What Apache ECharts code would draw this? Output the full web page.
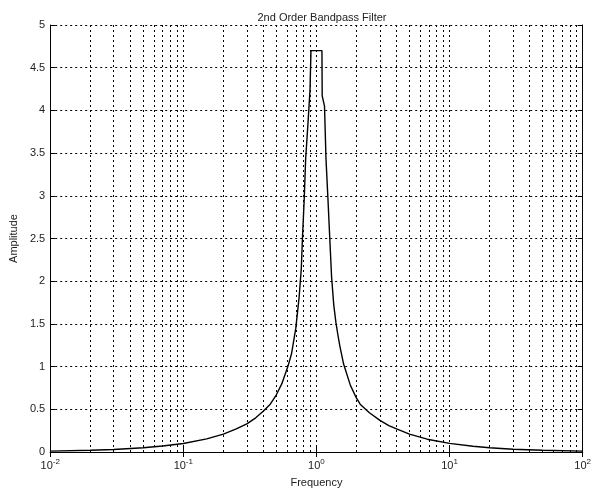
<!DOCTYPE html>
<html>
<head>
<meta charset="utf-8">
<script src="https://cdn.jsdelivr.net/npm/echarts@6/dist/echarts.min.js"></script>
<style>
html,body{margin:0;padding:0;background:#fff;}
#chart{width:594px;height:493px;}
</style>
</head>
<body>
<div id="chart"></div>
<script>
// Data
var frequency = [0.01, 0.02, 0.03, 0.05, 0.07, 0.1, 0.15, 0.2, 0.25, 0.3, 0.35, 0.4, 0.45, 0.5, 0.55, 0.61, 0.65, 0.7, 0.74, 0.77, 0.785, 0.81, 0.83, 0.865, 0.895, 0.91,
                 1.10, 1.105, 1.15, 1.18, 1.22, 1.26, 1.3, 1.35, 1.4, 1.45, 1.5, 1.6, 1.8, 2.0, 2.13, 2.5, 3, 3.5, 4, 5, 6.8, 10, 15, 20, 30, 50, 100];
var amplitude = [0.01, 0.02, 0.03, 0.05, 0.07, 0.1, 0.153, 0.21, 0.27, 0.33, 0.4, 0.48, 0.56, 0.67, 0.8, 1.0, 1.15, 1.45, 1.8, 2.15, 2.5, 2.97, 3.43, 3.86, 4.24, 4.7,
                 4.7, 4.17, 4.05, 3.43, 2.97, 2.5, 2.05, 1.72, 1.52, 1.37, 1.24, 1.03, 0.78, 0.63, 0.56, 0.46, 0.37, 0.31, 0.27, 0.21, 0.15, 0.101, 0.067, 0.05, 0.033, 0.02, 0.01];
var yTicks = ['0', '0.5', '1', '1.5', '2', '2.5', '3', '3.5', '4', '4.5', '5'];
var decades = [-2, -1, 0, 1, 2];
var titleText = '2nd Order Bandpass Filter';
var xName = 'Frequency';
var yName = 'Amplitude';

var points = frequency.map(function (f, i) { return [f, amplitude[i]]; });
var minorLines = [];
for (var d = 0; d < decades.length - 1; d++) {
  for (var m = 2; m <= 9; m++) {
    minorLines.push({ xAxis: m * Math.pow(10, decades[d]) });
  }
}

var gridStyle = { color: '#000', width: 1, type: [2, 3] };
var font = 'Liberation Sans, Arial, sans-serif';

var chart = echarts.init(document.getElementById('chart'), null, { renderer: 'canvas' });
chart.setOption({
  animation: false,
  backgroundColor: '#fff',
  title: {
    text: titleText, left: 317, top: 7, textAlign: 'center',
    textStyle: { fontFamily: font, fontSize: 11, fontWeight: 'normal', color: '#222' }
  },
  grid: { left: 47, right: 6, top: 25, bottom: 38, containLabel: false },
  xAxis: [{
    type: 'log', logBase: 10, min: 0.01, max: 100, position: 'bottom',
    name: xName, nameLocation: 'middle', nameGap: 25,
    nameTextStyle: { fontFamily: font, fontSize: 11, color: '#222' },
    axisLine: { show: true, lineStyle: { color: '#000', width: 1 } },
    axisTick: { show: true, inside: true, length: 5, lineStyle: { color: '#000' } },
    minorTick: { show: false },
    splitLine: { show: true, lineStyle: gridStyle },
    axisLabel: {
      margin: 6, fontFamily: font, color: '#222',
      formatter: function (v) {
        var e = Math.round(Math.log(v) / Math.LN10);
        return '{b|10}{s|' + e + '}';
      },
      rich: {
        b: { fontFamily: font, fontSize: 11, color: '#222' },
        s: { fontFamily: font, fontSize: 8, color: '#222', padding: [0, 0, 7, 0] }
      }
    }
  }, {
    type: 'log', logBase: 10, min: 0.01, max: 100, position: 'top',
    axisLine: { show: true, lineStyle: { color: '#000', width: 1 } },
    axisTick: { show: true, inside: true, length: 5, lineStyle: { color: '#000' } },
    axisLabel: { show: false }, splitLine: { show: false }
  }],
  yAxis: [{
    type: 'value', min: 0, max: 5, interval: 0.5, position: 'left',
    name: yName, nameLocation: 'middle', nameGap: 30, nameRotate: 90,
    nameTextStyle: { fontFamily: font, fontSize: 11, color: '#222' },
    axisLine: { show: true, lineStyle: { color: '#000', width: 1 } },
    axisTick: { show: true, inside: true, length: 5, lineStyle: { color: '#000' } },
    splitLine: { show: true, lineStyle: gridStyle },
    axisLabel: {
      margin: 5, fontFamily: font, fontSize: 11, color: '#222',
      formatter: function (v) { return yTicks[Math.round(v * 2)]; }
    }
  }, {
    type: 'value', min: 0, max: 5, interval: 0.5, position: 'right',
    axisLine: { show: true, lineStyle: { color: '#000', width: 1 } },
    axisTick: { show: true, inside: true, length: 5, lineStyle: { color: '#000' } },
    axisLabel: { show: false }, splitLine: { show: false }
  }],
  series: [{
    type: 'line', xAxisIndex: 0, yAxisIndex: 0,
    data: points, showSymbol: false, smooth: false,
    lineStyle: { color: '#000', width: 1.4 },
    z: 5,
    markLine: {
      silent: true, symbol: ['none', 'none'], animation: false,
      label: { show: false },
      lineStyle: gridStyle,
      data: minorLines
    }
  }]
});
</script>
</body>
</html>
